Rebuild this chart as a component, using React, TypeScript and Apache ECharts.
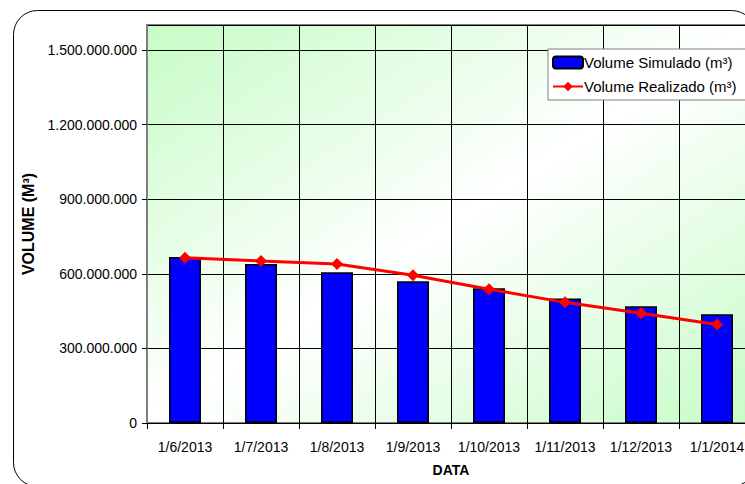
import React, { useEffect, useRef } from "react";
import * as echarts from "echarts";

const categories = ["1/6/2013", "1/7/2013", "1/8/2013", "1/9/2013", "1/10/2013", "1/11/2013", "1/12/2013", "1/1/2014"];
const simulado = [667e6, 639e6, 606e6, 570e6, 542e6, 501e6, 469e6, 437e6];
const realizado = [664e6, 651e6, 639e6, 594e6, 538e6, 485e6, 441e6, 396e6];

function fmt(v: number): string {
  return String(Math.round(v)).replace(/\B(?=(\d{3})+(?!\d))/g, ".");
}

export default function App() {
  const ref = useRef<HTMLDivElement>(null);
  useEffect(() => {
    document.body.style.margin = "0";
    const chart = echarts.init(ref.current!, null, { renderer: "svg" });
    const font = "Arial, 'Liberation Sans', sans-serif";
    chart.setOption({
      animation: false,
      backgroundColor: "#ffffff",
      textStyle: { fontFamily: font },
      graphic: [
        {
          type: "rect",
          z: -1,
          shape: { x: 13.5, y: 10.5, width: 742, height: 476, r: 24 },
          style: { fill: "none", stroke: "#000", lineWidth: 1 },
        },
      ],
      grid: {
        left: 147,
        top: 25,
        width: 608,
        height: 398,
        outerBoundsMode: "none",
        containLabel: false,
        show: true,
        borderColor: "#808080",
        borderWidth: 2,
        backgroundColor: new echarts.graphic.LinearGradient(0, 0, 1, 1, [
          { offset: 0, color: "#c6fcc6" },
          { offset: 0.5, color: "#ffffff" },
          { offset: 1, color: "#c6fcc6" },
        ]),
      },
      legend: {
        orient: "vertical",
        left: 548,
        top: 49,
        backgroundColor: "#ffffff",
        borderColor: "#808080",
        borderWidth: 1,
        padding: [6, 9, 6, 4],
        itemWidth: 30,
        itemHeight: 12,
        itemGap: 9,
        textStyle: { fontSize: 15, color: "#000", fontFamily: font, padding: [0, 0, 0, -4] },
        data: ["Volume Simulado (m³)", "Volume Realizado (m³)"],
      },
      xAxis: {
        type: "category",
        data: categories,
        boundaryGap: true,
        name: "DATA",
        nameLocation: "middle",
        nameGap: 40,
        nameTextStyle: { fontSize: 14, fontWeight: "bold", color: "#000", fontFamily: font },
        axisLine: { show: true, lineStyle: { color: "#000", width: 1 } },
        axisTick: { show: true, length: 6, alignWithLabel: false, lineStyle: { color: "#000" } },
        axisLabel: { fontSize: 14, color: "#000", margin: 17, interval: 0, fontFamily: font },
        splitLine: { show: true, lineStyle: { color: "#000", width: 1 } },
      },
      yAxis: {
        type: "value",
        min: 0,
        max: 1.6e9,
        interval: 3e8,
        name: "VOLUME (M³)",
        nameLocation: "middle",
        nameGap: 110,
        nameRotate: 90,
        nameTextStyle: { fontSize: 16, fontWeight: "bold", color: "#000", fontFamily: font },
        axisLine: { show: true, lineStyle: { color: "#808080", width: 2 } },
        axisTick: { show: true, length: 5, lineStyle: { color: "#000" } },
        axisLabel: {
          fontSize: 14,
          color: "#000",
          margin: 10,
          showMaxLabel: false,
          fontFamily: font,
          formatter: (v: number) => (v > 1.5e9 ? "" : fmt(v)),
        },
        splitLine: { show: true, lineStyle: { color: "#000", width: 1 } },
      },
      series: [
        {
          name: "Volume Simulado (m³)",
          type: "bar",
          data: simulado,
          barWidth: 32,
          itemStyle: { color: "#0000ff", borderColor: "#000", borderWidth: 1.5 },
        },
        {
          name: "Volume Realizado (m³)",
          type: "line",
          data: realizado,
          symbol: "diamond",
          symbolSize: 12,
          lineStyle: { color: "#ff0000", width: 3 },
          itemStyle: { color: "#ff0000" },
          z: 5,
        },
      ],
    });
    return () => chart.dispose();
  }, []);
  return <div ref={ref} style={{ position: "fixed", left: 0, top: 0, width: 745, height: 484 }} />;
}
